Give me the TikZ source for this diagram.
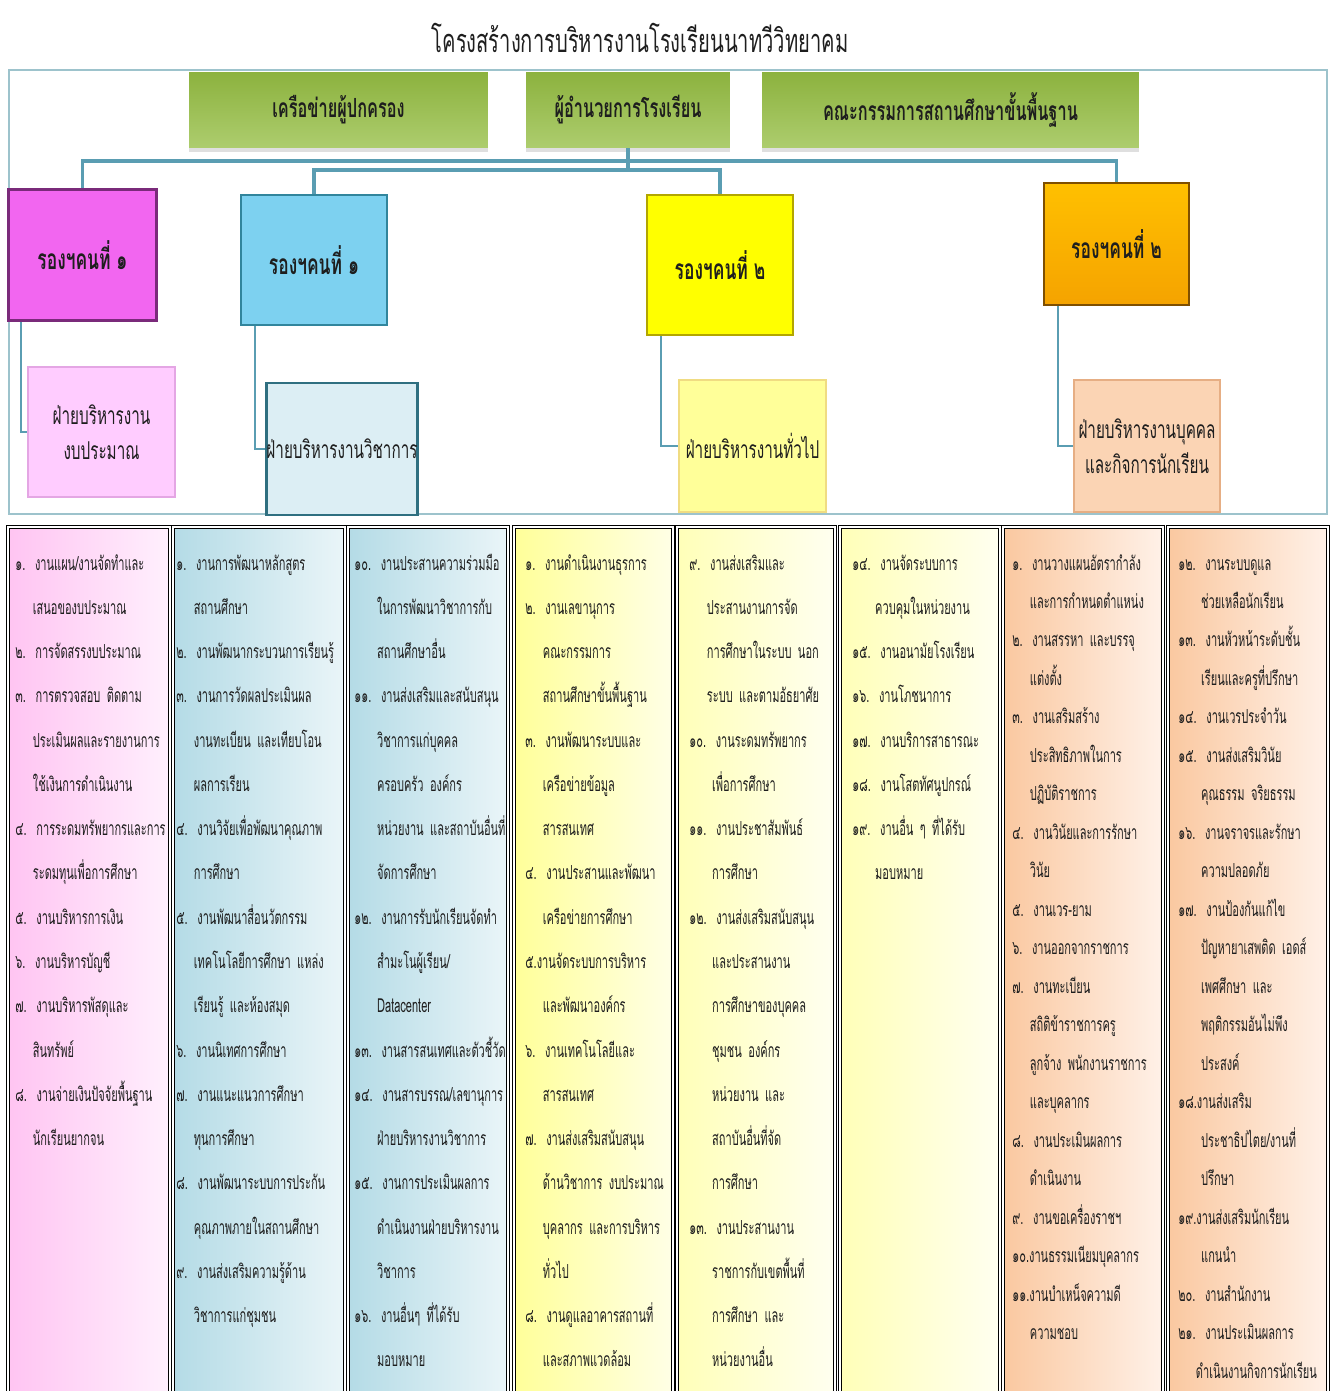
\documentclass[tikz,border=0pt]{standalone}
\usepackage{fontspec}
\newfontfamily\thaifont[Script=Thai,FakeStretch=0.62]{Loma}
\newfontfamily\colfont[Script=Thai,FakeStretch=0.57]{Loma}
\usepackage{tikz}
\usetikzlibrary{shadows}
\definecolor{Inkgray}{HTML}{1E1E1E}
\definecolor{Framegray}{HTML}{9DC3CC}
\definecolor{Linkteal}{HTML}{5A9DB2}
\definecolor{Greentop}{HTML}{8CB23E}
\definecolor{Greenbot}{HTML}{ADCD6E}
\definecolor{Magentafill}{HTML}{F266F0}
\definecolor{Magentaline}{HTML}{7A2A7A}
\definecolor{Skyfill}{HTML}{7DD1F0}
\definecolor{Skyline}{HTML}{31859C}
\definecolor{Yellowfill}{HTML}{FFFF00}
\definecolor{Yellowline}{HTML}{B3A600}
\definecolor{Orangetop}{HTML}{FFC000}
\definecolor{Orangebot}{HTML}{F5A300}
\definecolor{Orangeline}{HTML}{7F4F00}
\definecolor{Pinkfill}{HTML}{FFCCFF}
\definecolor{Pinkline}{HTML}{E4A6E4}
\definecolor{Paleblue}{HTML}{DCEEF4}
\definecolor{Paleblueline}{HTML}{2F6F80}
\definecolor{Paleyellow}{HTML}{FFFF99}
\definecolor{Paleyellowline}{HTML}{F0DC82}
\definecolor{Peachfill}{HTML}{FBD4B4}
\definecolor{Peachline}{HTML}{E6AE84}
\definecolor{ColApink}{HTML}{FFC4F2}
\definecolor{ColBpink}{HTML}{FFF0FD}
\definecolor{ColAblue}{HTML}{B4DBE6}
\definecolor{ColBblue}{HTML}{EAF5F8}
\definecolor{ColAyellow}{HTML}{FFFF99}
\definecolor{ColByellow}{HTML}{FFFFE6}
\definecolor{ColCyellow}{HTML}{FFFFB8}
\definecolor{ColDyellow}{HTML}{FFFFF0}
\definecolor{ColApeach}{HTML}{FAC8A0}
\definecolor{ColBpeach}{HTML}{FFF1E8}
\newcommand{\ind}{\hspace*{10pt}}
\newcommand{\indd}{\hspace*{13pt}}
\tikzset{
    greenbox/.style={top color=Greentop, bottom color=Greenbot, draw=none,
        font=\thaifont\bfseries\fontsize{15}{18}\selectfont, text=Inkgray,
        minimum height=1.52cm, inner sep=0pt,
        drop shadow={opacity=0.25, shadow xshift=0pt, shadow yshift=-2pt}},
    deputy/.style={font=\thaifont\bfseries\fontsize{16}{18}\selectfont, text=Inkgray,
        line width=1.5pt, inner sep=0pt},
    dept/.style={font=\thaifont\fontsize{14}{20}\selectfont, text=Inkgray,
        align=center, line width=1.2pt, inner sep=0pt},
    link/.style={draw=Linkteal, line width=1.8pt},
    sublink/.style={draw=Linkteal, line width=1pt},
    colframe/.style={draw=black, line width=0.6pt, double=white, double distance=0.8pt},
    coltext/.style={font=\colfont\fontsize{11}{25.2}\selectfont,
        text=Inkgray, text width=5cm, align=left, inner sep=0pt, anchor=base west},
    coltextb/.style={coltext, font=\colfont\fontsize{11}{21.9}\selectfont}
}

\begin{document}
\begin{tikzpicture}[x=0.02cm, y=-0.02cm]
    \useasboundingbox (0,0) rectangle (1335,1391);
    \fill[white] (0,0) rectangle (1335,1391);
    % Title
    \node[font=\thaifont\fontsize{18.5}{20}\selectfont, text=Inkgray] (title) at (640,38)
        {โครงสร้างการบริหารงานโรงเรียนนาทวีวิทยาคม};
    % Frame of the upper part
    \draw[Framegray, line width=1.2pt] (9,70) rectangle (1327,514);
    % Top boxes
    \node[greenbox, minimum width=5.98cm] (parents) at (338.5,110) {เครือข่ายผู้ปกครอง};
    \node[greenbox, minimum width=4.08cm] (director) at (628,110) {ผู้อำนวยการโรงเรียน};
    \node[greenbox, minimum width=7.54cm] (board) at (950.5,110) {คณะกรรมการสถานศึกษาขั้นพื้นฐาน};
    % Deputies
    \node[deputy, fill=Magentafill, draw=Magentaline, minimum width=2.96cm, minimum height=2.62cm]
        (dep1) at (82.5,255) {รองฯคนที่ ๑};
    \node[deputy, fill=Skyfill, draw=Skyline, minimum width=2.92cm, minimum height=2.6cm]
        (dep2) at (314,260) {รองฯคนที่ ๑};
    \node[deputy, fill=Yellowfill, draw=Yellowline, minimum width=2.92cm, minimum height=2.8cm]
        (dep3) at (720,265) {รองฯคนที่ ๒};
    \node[deputy, top color=Orangetop, bottom color=Orangebot, draw=Orangeline,
        minimum width=2.9cm, minimum height=2.44cm] (dep4) at (1116.5,244) {รองฯคนที่ ๒};
    % Departments
    \node[dept, fill=Pinkfill, draw=Pinkline, minimum width=2.94cm, minimum height=2.6cm]
        (dept1) at (101.5,432) {ฝ่ายบริหารงาน\\งบประมาณ};
    \node[dept, fill=Paleblue, draw=Paleblueline, line width=1.5pt, minimum width=2.92cm,
        minimum height=2.64cm] (dept2) at (342,449) {ฝ่ายบริหารงานวิชาการ};
    \node[dept, fill=Paleyellow, draw=Paleyellowline, minimum width=2.94cm, minimum height=2.64cm]
        (dept3) at (752.5,446) {ฝ่ายบริหารงานทั่วไป};
    \node[dept, fill=Peachfill, draw=Peachline, minimum width=2.92cm, minimum height=2.64cm]
        (dept4) at (1147,446) {ฝ่ายบริหารงานบุคคล\\และกิจการนักเรียน};
    % Connectors
    \coordinate (bus1) at (628,161);
    \coordinate (bus2) at (628,170);
    \draw[link] (director.south) -- (bus2);
    \draw[link] (dep1.north) |- (bus1) -| (dep4.north);
    \draw[link] (dep2.north) |- (bus2) -| (dep3.north);
    \draw[sublink] (dep1.south west) ++(14,0) |- (dept1.west);
    \draw[sublink] (dep2.south west) ++(15,0) |- (dept2.west);
    \draw[sublink] (dep3.south west) ++(15,0) |- (dept3.west);
    \draw[sublink] (dep4.south west) ++(15,0) |- (dept4.west);
    % Columns of tasks
    \path[left color=ColApink, right color=ColBpink] (8,527) rectangle (170,1391);
    \path[left color=ColAblue, right color=ColBblue] (173,527) rectangle (345,1391);
    \path[left color=ColAblue, right color=ColBblue] (348,527) rectangle (508,1391);
    \path[left color=ColAyellow, right color=ColByellow] (514,527) rectangle (673,1391);
    \path[left color=ColCyellow, right color=ColDyellow] (677,527) rectangle (835,1391);
    \path[left color=ColCyellow, right color=ColDyellow] (840,527) rectangle (1000,1391);
    \path[left color=ColApeach, right color=ColBpeach] (1003,527) rectangle (1163,1391);
    \path[left color=ColApeach, right color=ColBpeach] (1168,527) rectangle (1328,1391);
    \draw[colframe] (8,1391) |- (170,527) -- (170,1391);
    \draw[colframe] (173,1391) |- (345,527) -- (345,1391);
    \draw[colframe] (348,1391) |- (508,527) -- (508,1391);
    \draw[colframe] (514,1391) |- (673,527) -- (673,1391);
    \draw[colframe] (677,1391) |- (835,527) -- (835,1391);
    \draw[colframe] (840,1391) |- (1000,527) -- (1000,1391);
    \draw[colframe] (1003,1391) |- (1163,527) -- (1163,1391);
    \draw[colframe] (1168,1391) |- (1328,527) -- (1328,1391);
    % Budget
    \node[coltext] (col1) at (15,570) {๑. งานแผน/งานจัดทำและ\\
        \ind เสนอของบประมาณ\\
        ๒. การจัดสรรงบประมาณ\\
        ๓. การตรวจสอบ ติดตาม\\
        \ind ประเมินผลและรายงานการ\\
        \ind ใช้เงินการดำเนินงาน\\
        ๔. การระดมทรัพยากรและการ\\
        \ind ระดมทุนเพื่อการศึกษา\\
        ๕. งานบริหารการเงิน\\
        ๖. งานบริหารบัญชี\\
        ๗. งานบริหารพัสดุและ\\
        \ind สินทรัพย์\\
        ๘. งานจ่ายเงินปัจจัยพื้นฐาน\\
        \ind นักเรียนยากจน};
    % Academic
    \node[coltext] (col2) at (176,570) {๑. งานการพัฒนาหลักสูตร\\
        \ind สถานศึกษา\\
        ๒. งานพัฒนากระบวนการเรียนรู้\\
        ๓. งานการวัดผลประเมินผล\\
        \ind งานทะเบียน และเทียบโอน\\
        \ind ผลการเรียน\\
        ๔. งานวิจัยเพื่อพัฒนาคุณภาพ\\
        \ind การศึกษา\\
        ๕. งานพัฒนาสื่อนวัตกรรม\\
        \ind เทคโนโลยีการศึกษา แหล่ง\\
        \ind เรียนรู้ และห้องสมุด\\
        ๖. งานนิเทศการศึกษา\\
        ๗. งานแนะแนวการศึกษา\\
        \ind ทุนการศึกษา\\
        ๘. งานพัฒนาระบบการประกัน\\
        \ind คุณภาพภายในสถานศึกษา\\
        ๙. งานส่งเสริมความรู้ด้าน\\
        \ind วิชาการแก่ชุมชน};
    \node[coltext] (col3) at (354,570) {๑๐. งานประสานความร่วมมือ\\
        \indd ในการพัฒนาวิชาการกับ\\
        \indd สถานศึกษาอื่น\\
        ๑๑. งานส่งเสริมและสนับสนุน\\
        \indd วิชาการแก่บุคคล\\
        \indd ครอบครัว องค์กร\\
        \indd หน่วยงาน และสถาบันอื่นที่\\
        \indd จัดการศึกษา\\
        ๑๒. งานการรับนักเรียนจัดทำ\\
        \indd สำมะโนผู้เรียน/\\
        \indd Datacenter\\
        ๑๓. งานสารสนเทศและตัวชี้วัด\\
        ๑๔. งานสารบรรณ/เลขานุการ\\
        \indd ฝ่ายบริหารงานวิชาการ\\
        ๑๕. งานการประเมินผลการ\\
        \indd ดำเนินงานฝ่ายบริหารงาน\\
        \indd วิชาการ\\
        ๑๖. งานอื่นๆ ที่ได้รับ\\
        \indd มอบหมาย};
    % General
    \node[coltext] (col4) at (525,570) {๑. งานดำเนินงานธุรการ\\
        ๒. งานเลขานุการ\\
        \ind คณะกรรมการ\\
        \ind สถานศึกษาขั้นพื้นฐาน\\
        ๓. งานพัฒนาระบบและ\\
        \ind เครือข่ายข้อมูล\\
        \ind สารสนเทศ\\
        ๔. งานประสานและพัฒนา\\
        \ind เครือข่ายการศึกษา\\
        ๕.งานจัดระบบการบริหาร\\
        \ind และพัฒนาองค์กร\\
        ๖. งานเทคโนโลยีและ\\
        \ind สารสนเทศ\\
        ๗. งานส่งเสริมสนับสนุน\\
        \ind ด้านวิชาการ งบประมาณ\\
        \ind บุคลากร และการบริหาร\\
        \ind ทั่วไป\\
        ๘. งานดูแลอาคารสถานที่\\
        \ind และสภาพแวดล้อม};
    \node[coltext] (col5) at (689,570) {๙. งานส่งเสริมและ\\
        \ind ประสานงานการจัด\\
        \ind การศึกษาในระบบ นอก\\
        \ind ระบบ และตามอัธยาศัย\\
        ๑๐. งานระดมทรัพยากร\\
        \indd เพื่อการศึกษา\\
        ๑๑. งานประชาสัมพันธ์\\
        \indd การศึกษา\\
        ๑๒. งานส่งเสริมสนับสนุน\\
        \indd และประสานงาน\\
        \indd การศึกษาของบุคคล\\
        \indd ชุมชน องค์กร\\
        \indd หน่วยงาน และ\\
        \indd สถาบันอื่นที่จัด\\
        \indd การศึกษา\\
        ๑๓. งานประสานงาน\\
        \indd ราชการกับเขตพื้นที่\\
        \indd การศึกษา และ\\
        \indd หน่วยงานอื่น};
    \node[coltext] (col6) at (852,570) {๑๔. งานจัดระบบการ\\
        \indd ควบคุมในหน่วยงาน\\
        ๑๕. งานอนามัยโรงเรียน\\
        ๑๖. งานโภชนาการ\\
        ๑๗. งานบริการสาธารณะ\\
        ๑๘. งานโสตทัศนูปกรณ์\\
        ๑๙. งานอื่น ๆ ที่ได้รับ\\
        \indd มอบหมาย};
    % Personnel and students
    \node[coltextb] (col7) at (1012,570) {๑. งานวางแผนอัตรากำลัง\\
        \ind และการกำหนดตำแหน่ง\\
        ๒. งานสรรหา และบรรจุ\\
        \ind แต่งตั้ง\\
        ๓. งานเสริมสร้าง\\
        \ind ประสิทธิภาพในการ\\
        \ind ปฏิบัติราชการ\\
        ๔. งานวินัยและการรักษา\\
        \ind วินัย\\
        ๕. งานเวร-ยาม\\
        ๖. งานออกจากราชการ\\
        ๗. งานทะเบียน\\
        \ind สถิติข้าราชการครู\\
        \ind ลูกจ้าง พนักงานราชการ\\
        \ind และบุคลากร\\
        ๘. งานประเมินผลการ\\
        \ind ดำเนินงาน\\
        ๙. งานขอเครื่องราชฯ\\
        ๑๐.งานธรรมเนียมบุคลากร\\
        ๑๑.งานบำเหน็จความดี\\
        \ind ความชอบ};
    \node[coltextb] (col8) at (1178,570) {๑๒. งานระบบดูแล\\
        \indd ช่วยเหลือนักเรียน\\
        ๑๓. งานหัวหน้าระดับชั้น\\
        \indd เรียนและครูที่ปรึกษา\\
        ๑๔. งานเวรประจำวัน\\
        ๑๕. งานส่งเสริมวินัย\\
        \indd คุณธรรม จริยธรรม\\
        ๑๖. งานจราจรและรักษา\\
        \indd ความปลอดภัย\\
        ๑๗. งานป้องกันแก้ไข\\
        \indd ปัญหายาเสพติด เอดส์\\
        \indd เพศศึกษา และ\\
        \indd พฤติกรรมอันไม่พึง\\
        \indd ประสงค์\\
        ๑๘.งานส่งเสริม\\
        \indd ประชาธิปไตย/งานที่\\
        \indd ปรึกษา\\
        ๑๙.งานส่งเสริมนักเรียน\\
        \indd แกนนำ\\
        ๒๐. งานสำนักงาน\\
        ๒๑. งานประเมินผลการ\\
        \ind ดำเนินงานกิจการนักเรียน};
\end{tikzpicture}
\end{document}
